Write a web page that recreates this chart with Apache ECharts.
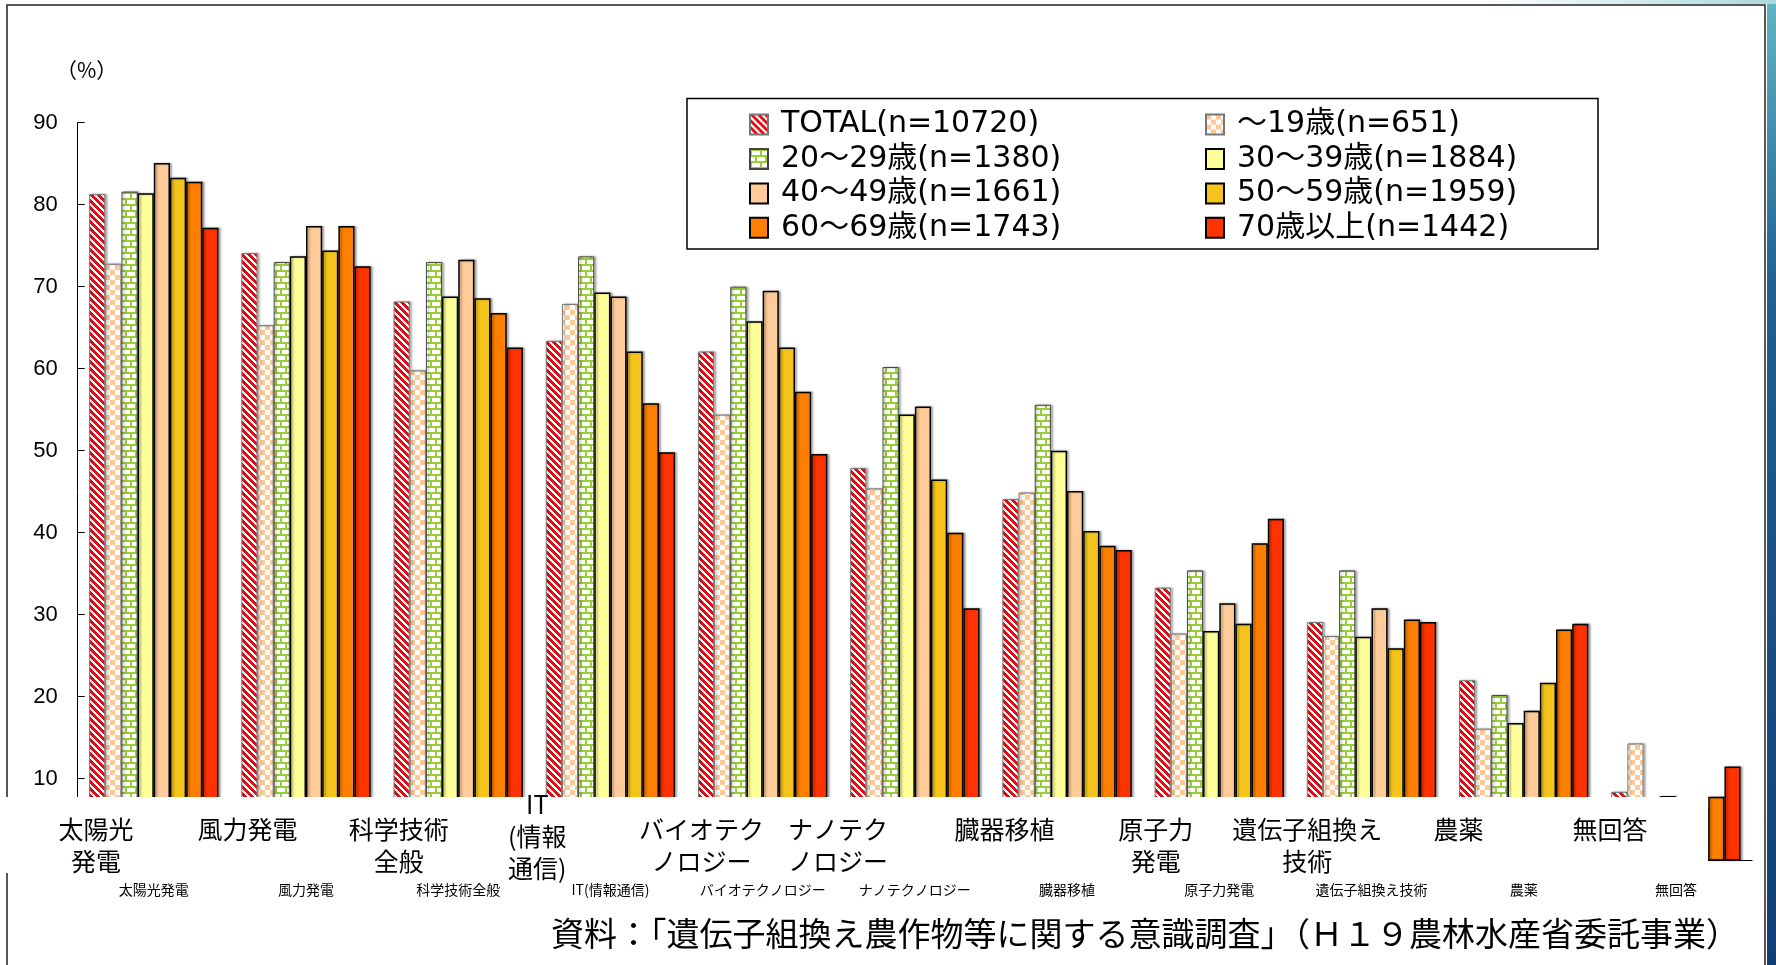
<!DOCTYPE html>
<html>
<head>
<meta charset="utf-8">
<title>遺伝子組換え農作物等に関する意識調査</title>
<script src="https://cdn.jsdelivr.net/npm/echarts@6.0.0/dist/echarts.min.js"></script>
<style>
html,body{margin:0;padding:0;background:#fff;}
#echart1{width:1776px;height:965px;}
</style>
</head>
<body>
<div id="echart1"></div>
<script>
// 分類（下の小さいラベル）
var categories = ['太陽光発電', '風力発電', '科学技術全般', 'IT(情報通信)', 'バイオテクノロジー', 'ナノテクノロジー', '臓器移植', '原子力発電', '遺伝子組換え技術', '農薬', '無回答'];
// 白枠の中の大きいラベル
var bigLabels = ['太陽光\n発電', '風力発電', '科学技術\n全般', 'IT\n(情報\n通信)', 'バイオテク\nノロジー', 'ナノテク\nノロジー', '臓器移植', '原子力\n発電', '遺伝子組換え\n技術', '農薬', '無回答'];
var seriesNames = ['TOTAL(n=10720)', '～19歳(n=651)', '20～29歳(n=1380)', '30～39歳(n=1884)', '40～49歳(n=1661)', '50～59歳(n=1959)', '60～69歳(n=1743)', '70歳以上(n=1442)'];
var yTicks = [0, 10, 20, 30, 40, 50, 60, 70, 80, 90];

var total = [81.3, 74.1, 68.2, 63.4, 62.1, 47.9, 44.1, 33.3, 29.1, 22.0, 8.4];
var age19 = [72.8, 65.3, 59.8, 67.9, 54.4, 45.4, 44.9, 27.7, 27.4, 16.1, 14.3];
var age20 = [81.6, 73.0, 73.0, 73.7, 70.0, 60.2, 55.6, 35.4, 35.4, 20.2, 5.5];
var age30 = [81.4, 73.7, 68.8, 69.3, 65.8, 54.4, 50.0, 28.0, 27.3, 16.8, 7.9];
var age40 = [85.1, 77.4, 73.3, 68.8, 69.5, 55.4, 45.1, 31.4, 30.8, 18.3, 5.8];
var age50 = [83.3, 74.4, 68.6, 62.1, 62.6, 46.5, 40.2, 28.9, 25.9, 21.7, 6.5];
var age60 = [82.8, 77.4, 66.8, 55.8, 57.2, 40.0, 38.4, 38.7, 29.4, 28.2, 7.8];
var age70 = [77.2, 72.5, 62.6, 49.8, 49.6, 30.8, 37.9, 41.7, 29.1, 28.9, 11.5];

var seriesData = [total, age19, age20, age30, age40, age50, age60, age70];

var CJK = '"Noto Sans CJK JP", "Noto Sans", sans-serif';

// 模様のタイル
function tile(w, h, draw) {
    var c = document.createElement('canvas');
    c.width = w; c.height = h;
    var ctx = c.getContext('2d');
    ctx.fillStyle = '#fff';
    ctx.fillRect(0, 0, w, h);
    draw(ctx);
    return c;
}
var stripe = tile(7, 7, function (ctx) {
    ctx.fillStyle = '#e60c16';
    for (var x = 0; x < 7; x++) {
        for (var y = 0; y < 7; y++) {
            if ((x - y + 14) % 7 < 4) ctx.fillRect(x, y, 1, 1);
        }
    }
});
var checker = tile(10, 10, function (ctx) {
    ctx.fillStyle = '#ffc894';
    ctx.fillRect(0, 0, 5, 5);
    ctx.fillRect(5, 5, 5, 5);
});
var brick = tile(10, 12, function (ctx) {
    ctx.fillStyle = '#9acd3a';
    ctx.fillRect(0, 0, 10, 2);
    ctx.fillRect(0, 6, 10, 2);
    ctx.fillRect(0, 0, 2, 6);
    ctx.fillRect(5, 6, 2, 6);
});

var fills = [
    {image: stripe, repeat: 'repeat'},
    {image: checker, repeat: 'repeat'},
    {image: brick, repeat: 'repeat'},
    '#ffff99', '#ffcc99', '#f4c41c', '#ff7f00', '#ff3300'
];
var borders = [['#777', 1], ['#777', 1], ['#444', 1], ['#000', 1.5], ['#000', 1.5], ['#000', 1.5], ['#000', 1.5], ['#000', 1.5]];

// 大きいラベルの位置の微調整
var bigNudge = {3: [7, 26, 0, 0], 5: [0, 30, 0, 0]};

echarts_1();

function echarts_1() {
    // 基于准备好的dom，初始化echarts实例
    var myChart = echarts.init(document.getElementById('echart1'));

    var series = seriesNames.map(function (name, i) {
        return {
            name: name,
            type: 'bar',
            xAxisIndex: 0,
            yAxisIndex: 0,
            barGap: '0%',
            barCategoryGap: '15%',
            itemStyle: {
                color: fills[i],
                borderColor: borders[i][0],
                borderWidth: borders[i][1],
                shadowColor: 'rgba(0,0,0,0.3)',
                shadowBlur: 2,
                shadowOffsetX: 2
            },
            data: seriesData[i]
        };
    });

    var legendBase = {
        orient: 'vertical',
        top: 109.6,
        padding: 0,
        itemWidth: 18,
        itemHeight: 20,
        itemGap: 4.4,
        selectedMode: false,
        icon: 'rect',
        textStyle: {
            color: '#000',
            fontSize: 30,
            lineHeight: 30,
            padding: [0, 0, 0, 8],
            fontFamily: '"DejaVu Sans", "Noto Sans CJK JP", sans-serif'
        }
    };

    option = {
        animation: false,
        backgroundColor: '#fff',
        title: {
            text: '資料：「遺伝子組換え農作物等に関する意識調査」（Ｈ１９農林水産省委託事業）',
            left: 551,
            top: 917,
            padding: 0,
            textStyle: {color: '#000', fontSize: 33, fontWeight: 'normal', fontFamily: CJK}
        },
        legend: [
            echarts.util.merge({left: 749, data: [seriesNames[0], seriesNames[2], seriesNames[4], seriesNames[6]]}, legendBase),
            echarts.util.merge({left: 1205, data: [seriesNames[1], seriesNames[3], seriesNames[5], seriesNames[7]]}, legendBase)
        ],
        grid: [
            {left: 77.7, right: 24, top: 122.7, bottom: 104.3},
            {left: 20.3, right: 90.3, top: 122.7, bottom: 192}
        ],
        xAxis: [{
            type: 'category',
            gridIndex: 0,
            data: categories,
            axisLine: {lineStyle: {color: '#000', width: 1}},
            axisTick: {inside: true, length: 6, lineStyle: {color: '#000'}},
            axisLabel: {interval: 0, margin: 22, color: '#000', fontSize: 14, fontFamily: CJK}
        }, {
            type: 'category',
            gridIndex: 1,
            z: 20,
            data: bigLabels.map(function (v, i) {
                return bigNudge[i] ? {value: v, textStyle: {padding: bigNudge[i]}} : v;
            }),
            axisLine: {show: false},
            axisTick: {show: false},
            axisLabel: {
                interval: 0,
                margin: 8,
                color: '#000',
                fontSize: 25,
                lineHeight: 32,
                fontFamily: CJK,
                formatter: function (v) {
                    return v.split('\n').length >= 3 ? v : '\n' + v;
                }
            }
        }],
        yAxis: [{
            type: 'value',
            gridIndex: 0,
            min: yTicks[0],
            max: yTicks[yTicks.length - 1],
            interval: yTicks[1] - yTicks[0],
            name: '（%）',
            nameLocation: 'end',
            nameGap: 42,
            nameTextStyle: {color: '#000', fontSize: 21, fontFamily: CJK, padding: [0, 0, 0, 18]},
            axisLine: {show: true, lineStyle: {color: '#000', width: 1}},
            axisTick: {show: true, inside: true, length: 7, lineStyle: {color: '#000'}},
            axisLabel: {color: '#000', fontSize: 22, margin: 20, fontFamily: '"Liberation Sans", sans-serif'},
            splitLine: {show: false}
        }, {
            type: 'value',
            gridIndex: 1,
            show: false,
            min: 0,
            max: 90
        }],
        graphic: [
            {type: 'rect', z: 1, silent: true, shape: {x: 7, y: 5, width: 1758, height: 1000},
                style: {fill: null, stroke: '#222', lineWidth: 1.5}},
            {type: 'rect', z: 1, silent: true, shape: {x: 1767, y: 0, width: 9, height: 965},
                style: {fill: new echarts.graphic.LinearGradient(0, 0, 0, 1, [
                    {offset: 0, color: '#5fb6c4'}, {offset: 0.3, color: '#1f5f92'}, {offset: 1, color: '#123e78'}])}},
            {type: 'rect', z: 1, silent: true, shape: {x: 1480, y: 0, width: 296, height: 4},
                style: {fill: new echarts.graphic.LinearGradient(0, 0, 1, 0, [
                    {offset: 0, color: '#ffffff'}, {offset: 1, color: '#a9d8dc'}])}},
            {type: 'rect', z: 1, silent: true, shape: {x: 687, y: 98.5, width: 911, height: 150.5},
                style: {fill: '#fff', stroke: '#000', lineWidth: 1.5}},
            {type: 'rect', z: 10, silent: true, shape: {x: 0, y: 797, width: 1708, height: 76},
                style: {fill: '#fff'}}
        ],
        series: series
    };
    // 使用刚指定的配置项和数据显示图表。
    myChart.setOption(option);
    window.addEventListener("resize", function () {
        myChart.resize();
    });
}
</script>
</body>
</html>
